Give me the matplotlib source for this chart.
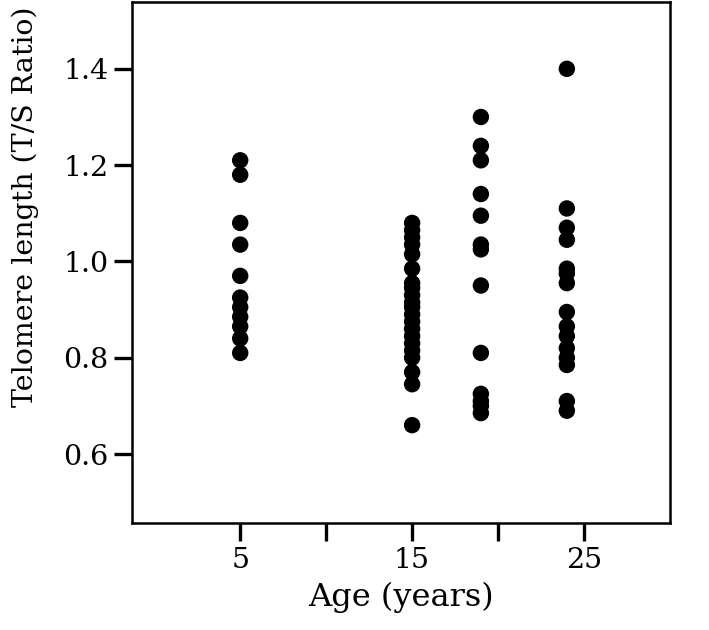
import matplotlib
matplotlib.use("Agg")
import matplotlib.pyplot as plt

# Telomere length (T/S ratio) per age group
age_5 = [1.21, 1.18, 1.08, 1.035, 0.97, 0.925, 0.905, 0.885, 0.865, 0.84, 0.81]
age_15 = [1.08, 1.065, 1.05, 1.035, 1.015, 0.985, 0.955, 0.945, 0.93, 0.915, 0.905,
          0.89, 0.875, 0.86, 0.845, 0.83, 0.815, 0.80, 0.77, 0.745, 0.66]
age_19 = [1.30, 1.24, 1.21, 1.14, 1.095, 1.035, 1.025, 0.95, 0.81, 0.725, 0.71, 0.70, 0.685]
age_24 = [1.40, 1.11, 1.07, 1.045, 0.985, 0.975, 0.955, 0.895, 0.865, 0.845, 0.82,
          0.80, 0.785, 0.71, 0.69]
groups = {5: age_5, 15: age_15, 19: age_19, 24: age_24}

x_ticks = [5, 10, 15, 20, 25]
x_labels = ["5", "", "15", "", "25"]
y_ticks = [0.6, 0.8, 1.0, 1.2, 1.4]

plt.rcParams["font.family"] = ["DejaVu Serif"]

fig = plt.figure(figsize=(7.09, 6.30), dpi=100)
ax = fig.add_axes([0.186, 0.170, 0.759, 0.827])

for age, vals in groups.items():
    ax.scatter([age] * len(vals), vals, s=140, color="black", edgecolors="none", zorder=3)

ax.set_xlim(-1.3, 30)
ax.set_ylim(0.457, 1.539)
ax.set_xticks(x_ticks)
ax.set_xticklabels(x_labels)
ax.set_yticks(y_ticks)
ax.set_yticklabels(["0.6", "0.8", "1.0", "1.2", "1.4"])
ax.tick_params(direction="out", length=13, width=2.4, labelsize=20.5, pad=4)
for sp in ax.spines.values():
    sp.set_linewidth(1.8)

ax.set_xlabel("Age (years)", fontsize=23, labelpad=6)
ax.set_ylabel("Telomere length (T/S Ratio)", fontsize=20.5)
ax.yaxis.set_label_coords(-0.172, 0.607)

fig.savefig("out.png", dpi=100)
